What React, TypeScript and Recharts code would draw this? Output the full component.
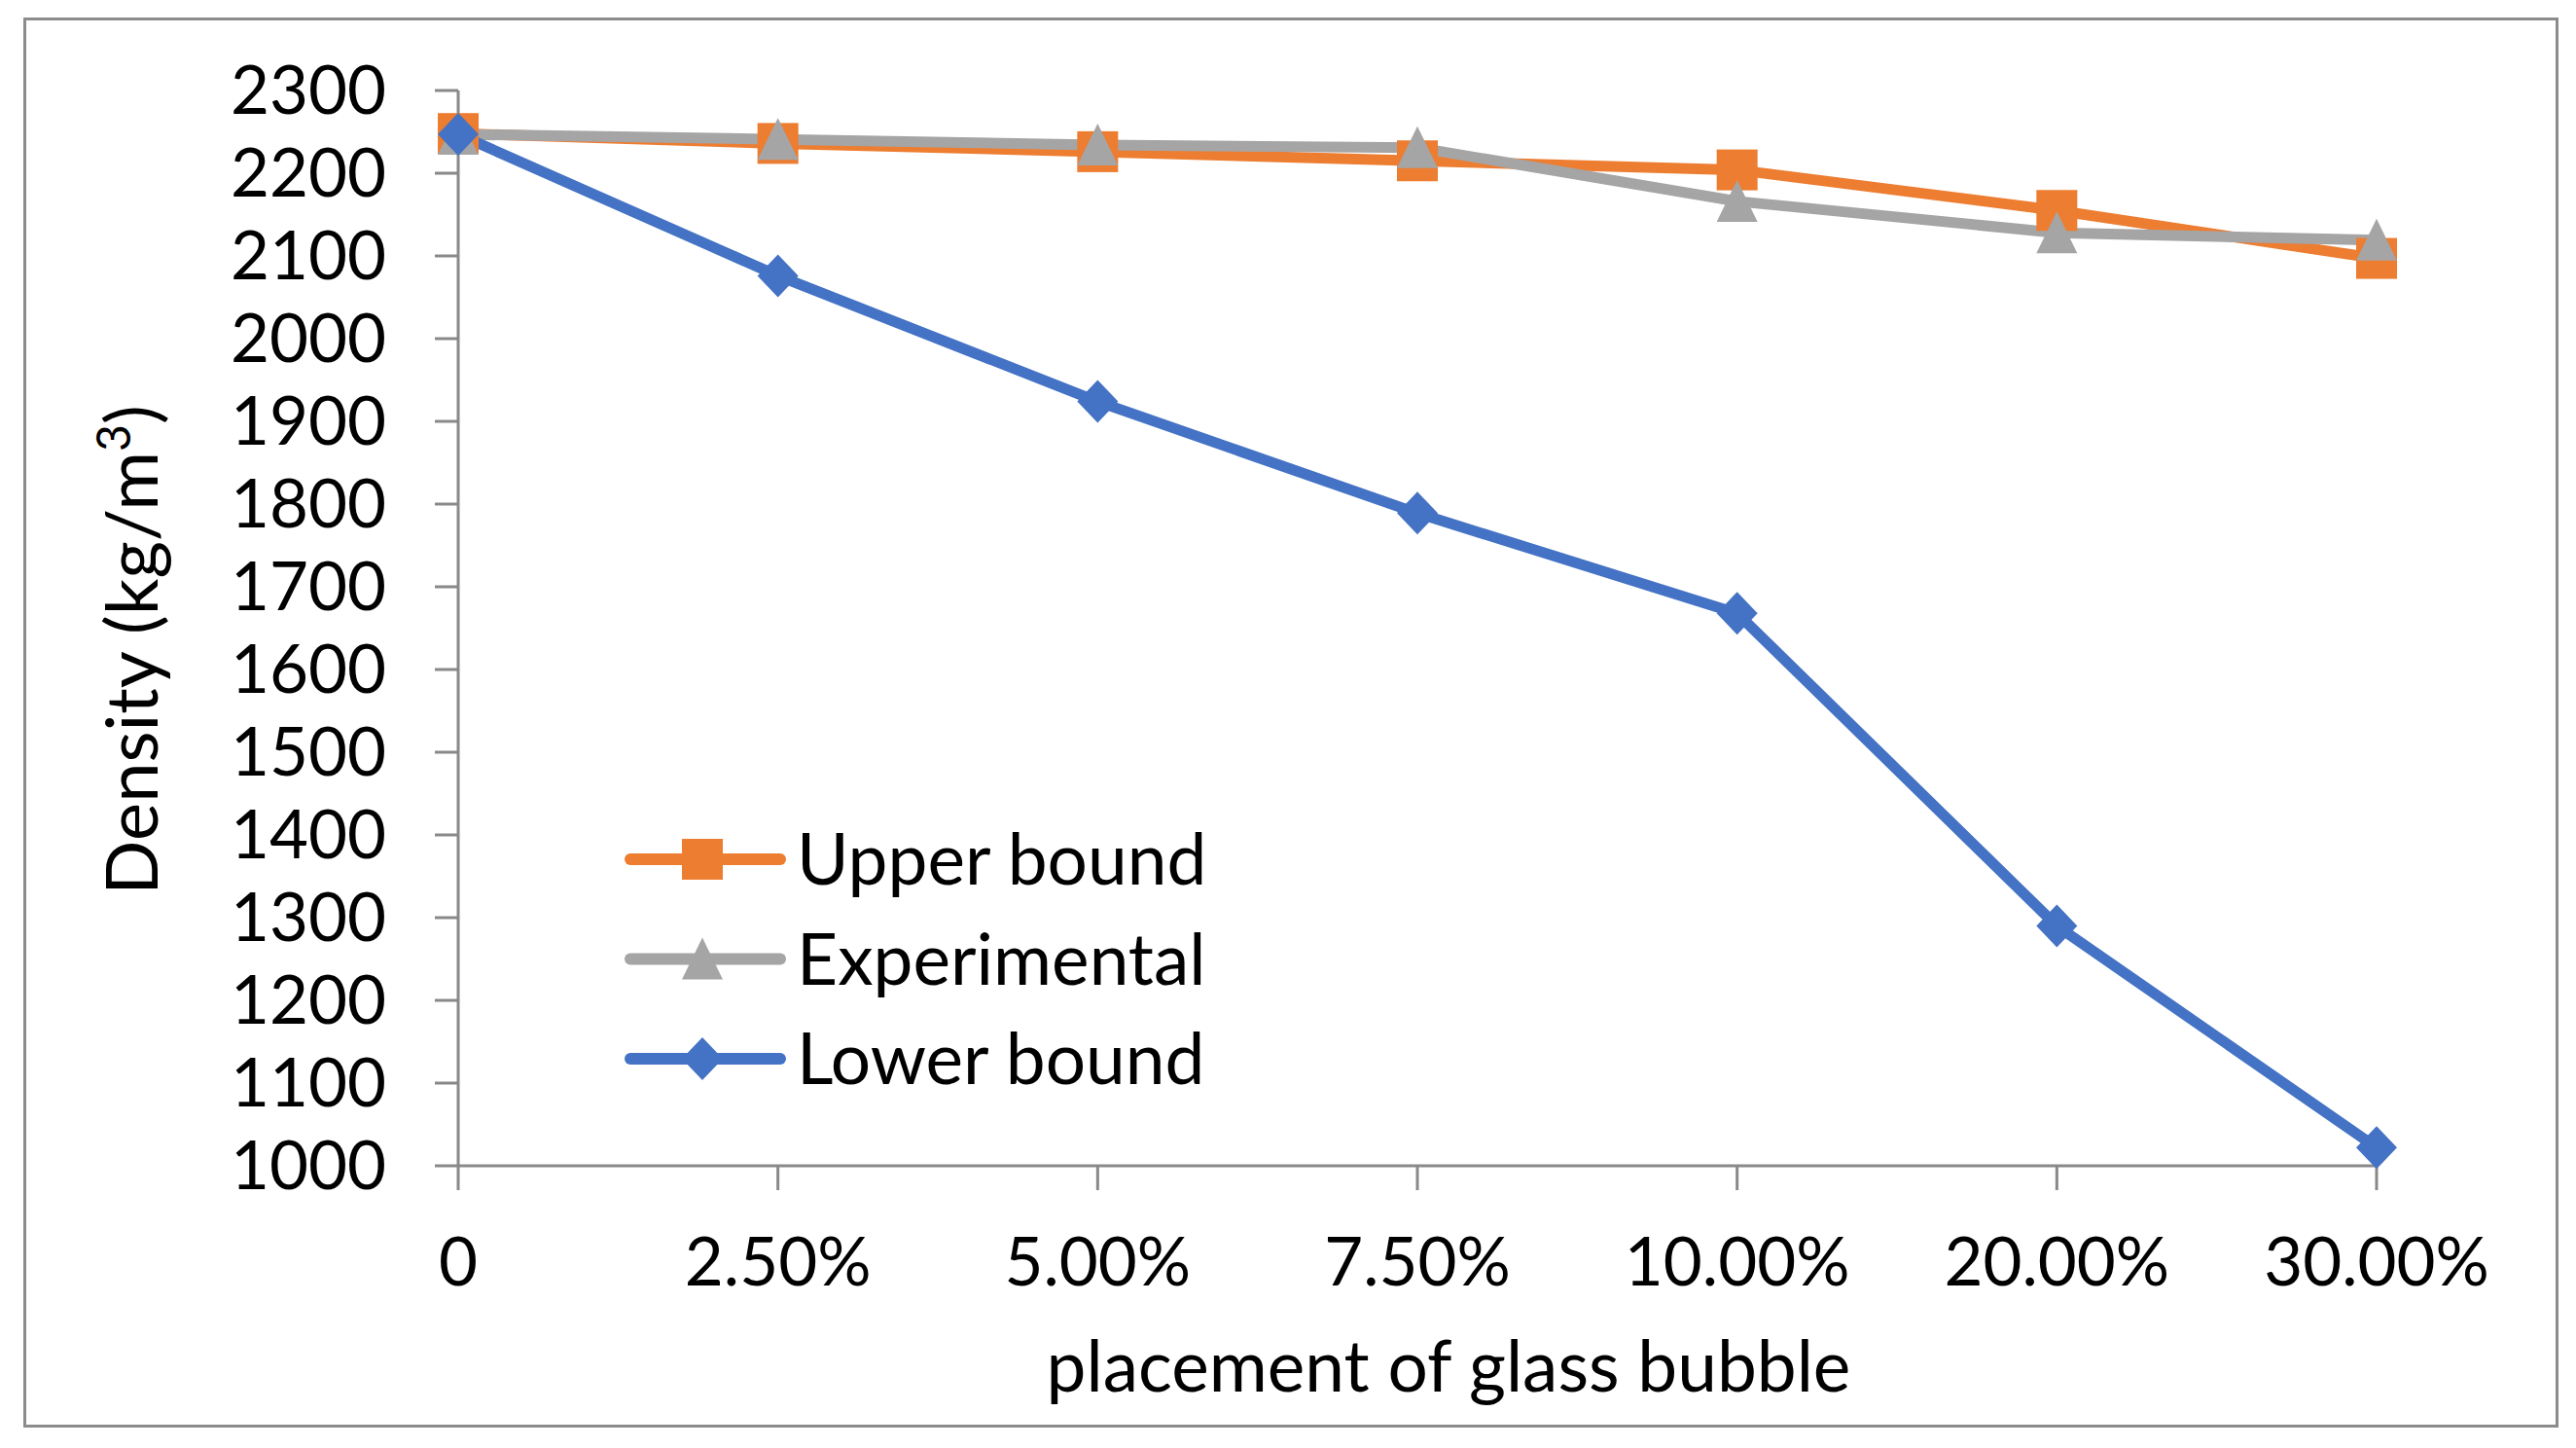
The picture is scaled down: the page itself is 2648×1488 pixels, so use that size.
import React from 'react'
import { LineChart, Line, XAxis, YAxis, Legend } from 'recharts'

const categories = ['0', '2.50%', '5.00%', '7.50%', '10.00%', '20.00%', '30.00%']
const upperBound = [2248, 2236, 2226, 2215, 2204, 2155, 2097]
const experimental = [2247, 2241, 2234, 2231, 2166, 2128, 2119]
const lowerBound = [2247, 2076, 1924, 1789, 1668, 1290, 1022]
const yTicks = [1000, 1100, 1200, 1300, 1400, 1500, 1600, 1700, 1800, 1900, 2000, 2100, 2200, 2300]

const data = categories.map((c, i) => ({
  name: c,
  upper: upperBound[i],
  experimental: experimental[i],
  lower: lowerBound[i],
}))

const ORANGE = '#ED7D31'
const GRAY = '#A5A5A5'
const BLUE = '#4472C4'
const AXIS = '#898989'
const FONT = 'Lato, "Open Sans", sans-serif'

// marker shapes, ~42px like the original
function square(cx: number, cy: number, fill: string, key?: any) {
  return <rect key={key} x={cx - 21} y={cy - 21} width={42} height={42} fill={fill} />
}
function triangle(cx: number, cy: number, fill: string, key?: any) {
  return <polygon key={key} points={`${cx},${cy - 22} ${cx - 21},${cy + 21} ${cx + 21},${cy + 21}`} fill={fill} />
}
function diamond(cx: number, cy: number, fill: string, key?: any) {
  return <polygon key={key} points={`${cx},${cy - 22} ${cx + 21},${cy} ${cx},${cy + 22} ${cx - 21},${cy}`} fill={fill} />
}

const markers: Record<string, (cx: number, cy: number, fill: string, key?: any) => React.ReactElement> = {
  upper: square,
  experimental: triangle,
  lower: diamond,
}

const legendItems = [
  { key: 'upper', label: 'Upper bound', color: ORANGE },
  { key: 'experimental', label: 'Experimental', color: GRAY },
  { key: 'lower', label: 'Lower bound', color: BLUE },
]

function renderLegend() {
  return (
    <svg width={720} height={320}>
      {legendItems.map((it, i) => {
        const y = 53 + i * 102.5
        return (
          <g key={it.key}>
            <line x1={14} y1={y} x2={168} y2={y} stroke={it.color} strokeWidth={12} strokeLinecap="round" />
            {markers[it.key](88, y, it.color)}
            <text x={185} y={y + 26} fontFamily={FONT} fontSize={73} fill="#000">
              {it.label}
            </text>
          </g>
        )
      })}
    </svg>
  )
}

const YLabel = () => (
  <text transform="rotate(-90 162 668)" x={162} y={668} textAnchor="middle" fontFamily={FONT} fontSize={74} fill="#000">
    Density (kg/m<tspan dy={-28} fontSize={48}>3</tspan>
    <tspan dy={28}>)</tspan>
  </text>
)

const XLabel = () => (
  <text x={1489} y={1430} textAnchor="middle" fontFamily={FONT} fontSize={73} fill="#000">
    placement of glass bubble
  </text>
)

export default function App() {
  const tickStyle = { fontFamily: FONT, fontSize: 69, fill: '#000' }
  return (
    <div style={{ position: 'relative', width: 2648, height: 1488, background: '#fff' }}>
      <style>{`body{margin:0;}`}</style>
      <div
        style={{
          position: 'absolute',
          left: 24,
          top: 18,
          width: 2600,
          height: 1443,
          border: '3px solid #8c8c8c',
        }}
      />
      <LineChart width={2648} height={1488} data={data} margin={{ top: 93, right: 205, left: 0, bottom: 0 }}>
        <XAxis
          dataKey="name"
          height={290}
          padding={{ left: 0, right: 0 }}
          tick={tickStyle}
          tickSize={25}
          tickMargin={49}
          axisLine={{ stroke: AXIS, strokeWidth: 3 }}
          tickLine={{ stroke: AXIS, strokeWidth: 3 }}
          interval={0}
          label={{ content: XLabel }}
        />
        <YAxis
          width={471}
          domain={[1000, 2300]}
          ticks={yTicks}
          interval={0}
          tick={tickStyle}
          tickSize={24}
          tickMargin={50}
          axisLine={{ stroke: AXIS, strokeWidth: 3 }}
          tickLine={{ stroke: AXIS, strokeWidth: 3 }}
          label={{ content: YLabel }}
        />
        <Legend
          layout="horizontal"
          verticalAlign="middle"
          align="center"
          content={renderLegend}
          wrapperStyle={{ position: 'absolute', left: 634, top: 830, width: 720, height: 320 }}
        />
        <Line
          dataKey="upper"
          name="Upper bound"
          stroke={ORANGE}
          strokeWidth={11}
          strokeLinejoin="round"
          isAnimationActive={false}
          activeDot={false}
          dot={(p: any) => square(p.cx, p.cy, ORANGE, `u${p.index}`)}
        />
        <Line
          dataKey="experimental"
          name="Experimental"
          stroke={GRAY}
          strokeWidth={11}
          strokeLinejoin="round"
          isAnimationActive={false}
          activeDot={false}
          dot={(p: any) => triangle(p.cx, p.cy, GRAY, `e${p.index}`)}
        />
        <Line
          dataKey="lower"
          name="Lower bound"
          stroke={BLUE}
          strokeWidth={11}
          strokeLinejoin="round"
          isAnimationActive={false}
          activeDot={false}
          dot={(p: any) => diamond(p.cx, p.cy, BLUE, `l${p.index}`)}
        />
      </LineChart>
    </div>
  )
}
